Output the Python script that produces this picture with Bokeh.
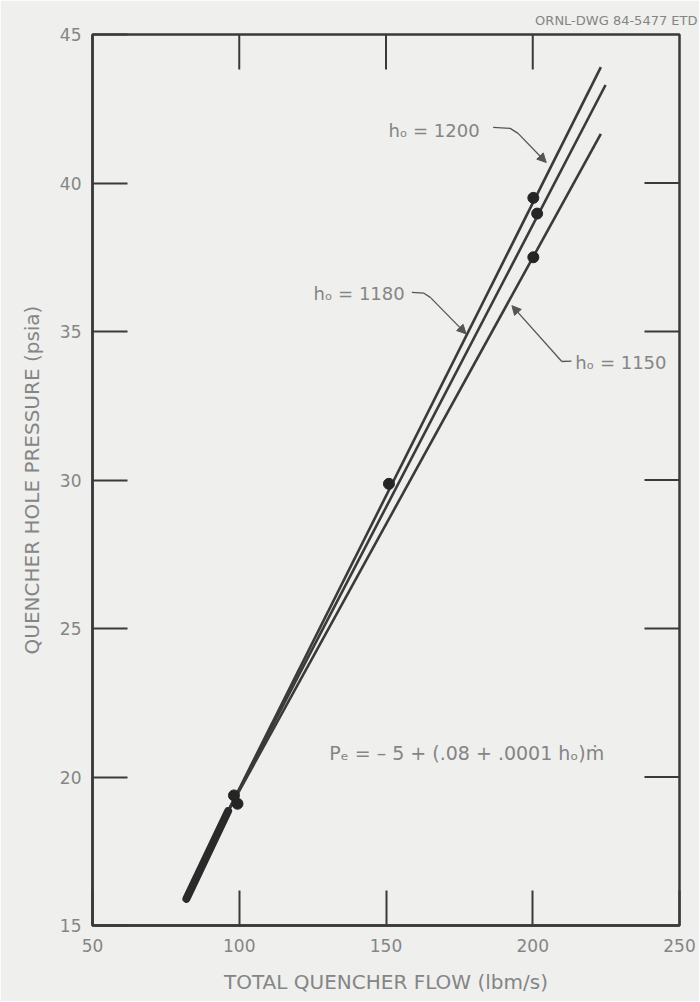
import math
from bokeh.plotting import figure
from bokeh.models import Range1d, FixedTicker, Arrow, NormalHead, Label
from bokeh.embed import file_html
from bokeh.resources import INLINE

# ---- data ----
h0_values = [1200, 1180, 1150]
line_start_flow = [96.2, 96.2, 96.2]
line_start_p = [18.85, 18.85, 18.85]
line_end_flow = [223.2, 224.8, 223.2]
line_end_p = [43.9, 43.3, 41.65]
merged_flow = [82.0, 96.2]
merged_p = [15.9, 18.85]
point_flow = [98.2, 99.4, 151.0, 200.2, 201.5, 200.2]
point_p = [19.38, 19.1, 29.87, 39.5, 38.97, 37.5]
x_ticks = [50, 100, 150, 200, 250]
y_ticks = [15, 20, 25, 30, 35, 40, 45]
x_inner_ticks = [100, 150, 200]
y_inner_ticks = [20, 25, 30, 35, 40]

X_MIN, X_MAX, Y_MIN, Y_MAX = 50, 250, 15, 45

BG = "#efefed"
INK = "#3a3a3a"
TXT = "#858585"
FONT = "DejaVu Sans"

p = figure(frame_width=587, frame_height=891,
           x_range=Range1d(X_MIN, X_MAX), y_range=Range1d(Y_MIN, Y_MAX),
           output_backend="svg", toolbar_location=None,
           min_border_left=92, min_border_right=20,
           min_border_top=34, min_border_bottom=76,
           background_fill_color=BG, border_fill_color=BG,
           title="ORNL-DWG 84-5477 ETD")
p.grid.visible = False
p.outline_line_color = INK
p.outline_line_width = 2.5

p.title.align = "right"
p.title.text_font = FONT
p.title.text_font_size = "13px"
p.title.text_font_style = "normal"
p.title.text_color = TXT
p.title.offset = -18
p.title.standoff = 14

def style_axis(ax, ticks):
    ax.ticker = FixedTicker(ticks=ticks)
    ax.major_tick_in = 35
    ax.major_tick_out = 0
    ax.minor_tick_in = 0
    ax.minor_tick_out = 0
    ax.major_tick_line_color = INK
    ax.major_tick_line_width = 2
    ax.axis_line_color = INK
    ax.axis_line_width = 2.5
    ax.major_label_text_font = FONT
    ax.major_label_text_color = TXT
    ax.axis_label_text_font = FONT
    ax.axis_label_text_color = TXT
    ax.axis_label_text_font_style = "normal"

xa = p.xaxis[0]
style_axis(xa, x_ticks)
xa.major_label_text_font_size = "17px"
xa.major_label_standoff = 13
xa.axis_label = "TOTAL QUENCHER FLOW (lbm/s)"
xa.axis_label_text_font_size = "20px"
xa.axis_label_standoff = 15

ya = p.yaxis[0]
style_axis(ya, y_ticks)
ya.major_label_text_font_size = "17px"
ya.major_label_standoff = 11
ya.axis_label = "QUENCHER HOLE PRESSURE (psia)"
ya.axis_label_text_font_size = "20px"
ya.axis_label_standoff = 13

# inward ticks on the top and right edges of the frame
p.ray(x=x_inner_ticks, y=[Y_MAX] * len(x_inner_ticks), length=35, length_units="screen",
      angle=-math.pi / 2, line_color=INK, line_width=2)
p.ray(x=[X_MAX] * len(y_inner_ticks), y=y_inner_ticks, length=35, length_units="screen",
      angle=math.pi, line_color=INK, line_width=2)

# ---- lines ----
for i in range(len(h0_values)):
    p.line([line_start_flow[i], line_end_flow[i]], [line_start_p[i], line_end_p[i]],
           line_color=INK, line_width=2.6)
p.line(merged_flow, merged_p, line_color="#2a2a2a", line_width=8, line_cap="round")
p.scatter(point_flow, point_p, size=11, fill_color="#252525", line_color="#252525")

# ---- annotations ----
for txt, lx, ly in [("h\u2092 = 1200", 150.85, 41.77),
                    ("h\u2092 = 1180", 125.3, 36.28),
                    ("h\u2092 = 1150", 214.5, 33.96)]:
    p.add_layout(Label(x=lx, y=ly, text=txt, text_font=FONT, text_font_size="18px",
                       text_color=TXT, text_align="left", text_baseline="middle"))

lead_col = "#555555"
head = dict(size=9, fill_color=lead_col, line_color=lead_col)
# h0 = 1200 leader
p.line([186.5, 192.3, 195.0], [41.87, 41.84, 41.67], line_color=lead_col, line_width=1.3)
p.add_layout(Arrow(end=NormalHead(**head), x_start=195.0, y_start=41.67,
                   x_end=204.6, y_end=40.69, line_color=lead_col, line_width=1.3))
# h0 = 1180 leader
p.line([158.8, 162.9, 165.1], [36.32, 36.29, 36.15], line_color=lead_col, line_width=1.3)
p.add_layout(Arrow(end=NormalHead(**head), x_start=165.1, y_start=36.15,
                   x_end=177.3, y_end=34.92, line_color=lead_col, line_width=1.3))
# h0 = 1150 leader
p.line([213.2, 209.9], [34.0, 33.99], line_color=lead_col, line_width=1.3)
p.add_layout(Arrow(end=NormalHead(**head), x_start=209.9, y_start=33.99,
                   x_end=192.9, y_end=35.87, line_color=lead_col, line_width=1.3))

p.add_layout(Label(x=177.5, y=20.82, text="P\u2091 = \u2013 5 + (.08 + .0001 h\u2092)\u1e41",
                   text_font=FONT, text_font_size="19px", text_color=TXT,
                   text_align="center", text_baseline="middle"))

open("out.html", "w").write(file_html(p, INLINE))
